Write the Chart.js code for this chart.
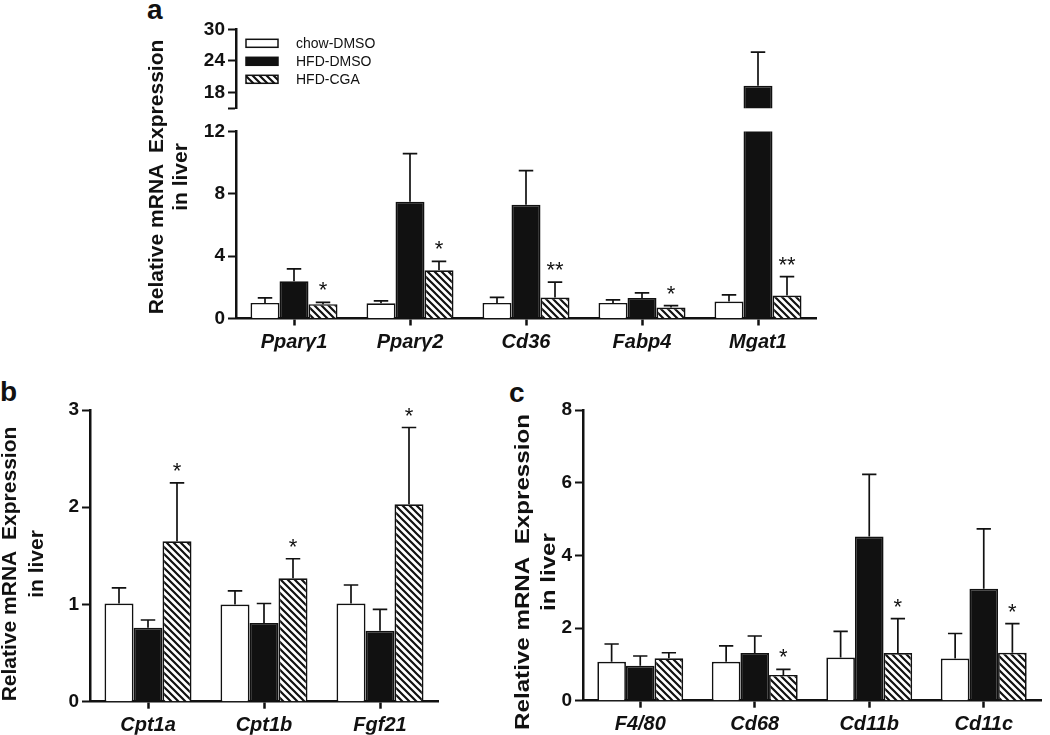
<!DOCTYPE html>
<html><head><meta charset="utf-8">
<script src="https://cdn.jsdelivr.net/npm/chart.js@4.4.1/dist/chart.umd.min.js"></script>
<style>
html,body{margin:0;padding:0;background:#fff;width:1050px;height:735px;overflow:hidden;position:relative;}
canvas{position:absolute;}
.lbl{position:absolute;font-family:"Liberation Sans",Arial,sans-serif;font-weight:bold;font-size:28px;line-height:28px;color:#111;}
.yt{position:absolute;width:360px;font-family:"Liberation Sans",Arial,sans-serif;font-weight:bold;font-size:21px;color:#111;text-align:center;white-space:pre;transform-origin:center center;}
</style></head>
<body>
<canvas id="aUp" width="646" height="125" style="left:180px;top:10px"></canvas>
<canvas id="aLow" width="646" height="240" style="left:180px;top:115px"></canvas>
<canvas id="bC" width="408" height="340" style="left:40px;top:395px"></canvas>
<canvas id="cC" width="520" height="340" style="left:528px;top:395px"></canvas>

<div class="lbl" style="left:147px;top:-4px">a</div>
<div class="lbl" style="left:0px;top:378px">b</div>
<div class="lbl" style="left:509px;top:379px">c</div>

<div class="yt" style="left:-12.3px;top:153px;line-height:24px;transform:rotate(-90deg)">Relative mRNA  Expression
in liver</div>
<div class="yt" style="left:-157.8px;top:536.5px;line-height:27px;transform:rotate(-90deg)">Relative mRNA  Expression
in liver</div>
<div class="yt" style="left:354.7px;top:545.5px;line-height:26px;transform:rotate(-90deg) scaleX(1.15)">Relative mRNA  Expression
in liver</div>

<script>
// ---------- data ----------
const seriesNames = ['chow-DMSO', 'HFD-DMSO', 'HFD-CGA'];

// panel a
const catsA = ['Ppar\u03B31', 'Ppar\u03B32', 'Cd36', 'Fabp4', 'Mgat1'];
const chowA = [1.00, 0.98, 1.00, 1.00, 1.09];
const chowAErr = [0.32, 0.15, 0.35, 0.19, 0.42];
const hfdA = [2.39, 7.50, 7.30, 1.32, 19.27];
const hfdAErr = [0.79, 3.08, 2.19, 0.32, 6.38];
const cgaA = [0.92, 3.10, 1.35, 0.70, 1.47];
const cgaAErr = [0.12, 0.57, 0.98, 0.13, 1.22];
const sigA = ['*', '*', '**', '*', '**'];
const ticksAUpper = [15, 18, 24, 30];
const ticksALower = [0, 4, 8, 12];

// panel b
const catsB = ['Cpt1a', 'Cpt1b', 'Fgf21'];
const chowB = [1.01, 1.00, 1.01];
const chowBErr = [0.16, 0.14, 0.19];
const hfdB = [0.76, 0.81, 0.73];
const hfdBErr = [0.08, 0.20, 0.22];
const cgaB = [1.65, 1.27, 2.03];
const cgaBErr = [0.60, 0.20, 0.79];
const sigB = ['*', '*', '*'];
const ticksB = [0, 1, 2, 3];

// panel c
const catsC = ['F4/80', 'Cd68', 'Cd11b', 'Cd11c'];
const chowC = [1.07, 1.07, 1.19, 1.16];
const chowCErr = [0.49, 0.44, 0.72, 0.69];
const hfdC = [0.96, 1.31, 4.52, 3.08];
const hfdCErr = [0.27, 0.47, 1.71, 1.65];
const cgaC = [1.17, 0.71, 1.31, 1.32];
const cgaCErr = [0.15, 0.15, 0.95, 0.80];
const sigC = ['', '*', '*', '*'];
const ticksC = [0, 2, 4, 6, 8];

// ---------- styling ----------
const FAM = '"Liberation Sans", Arial, sans-serif';
const INK = '#111';

function makeHatch() {
  const s = 7, c = document.createElement('canvas');
  c.width = s; c.height = s;
  const g = c.getContext('2d');
  g.fillStyle = '#fff'; g.fillRect(0, 0, s, s);
  g.strokeStyle = INK; g.lineWidth = 2.2;
  g.beginPath();
  for (let k = -1; k <= 1; k++) { g.moveTo(k * s - 1, -1); g.lineTo(k * s + s + 1, s + 1); }
  g.stroke();
  return g.createPattern(c, 'repeat');
}
const hatch = makeHatch();

const errPlugin = {
  id: 'errbars',
  afterDatasetsDraw(chart) {
    const ctx = chart.ctx, a = chart.chartArea, ys = chart.scales.y;
    ctx.save();
    ctx.beginPath();
    ctx.rect(a.left, a.top - 1, a.right - a.left, a.bottom - a.top + 1);
    ctx.clip();
    ctx.strokeStyle = INK; ctx.lineWidth = 1.7;
    chart.data.datasets.forEach((ds, di) => {
      const meta = chart.getDatasetMeta(di);
      meta.data.forEach((bar, i) => {
        const v = ds.data[i], e = ds.errors[i];
        const y0 = ys.getPixelForValue(v), y1 = ys.getPixelForValue(v + e);
        const half = bar.width / 4;
        ctx.beginPath();
        ctx.moveTo(bar.x, y0); ctx.lineTo(bar.x, y1);
        ctx.moveTo(bar.x - half, y1); ctx.lineTo(bar.x + half, y1);
        ctx.stroke();
      });
    });
    ctx.restore();
    ctx.save();
    ctx.fillStyle = INK;
    ctx.font = '22px ' + FAM;
    ctx.textAlign = 'center';
    ctx.textBaseline = 'alphabetic';
    chart.data.datasets.forEach((ds, di) => {
      if (!ds.sig) return;
      const meta = chart.getDatasetMeta(di);
      meta.data.forEach((bar, i) => {
        const t = ds.sig[i];
        const top = ds.data[i] + ds.errors[i];
        if (!t || top > ys.max || top < ys.min) return;
        ctx.fillText(t, bar.x, ys.getPixelForValue(top) - 5);
      });
    });
    ctx.restore();
  }
};

const legendPlugin = {
  id: 'boxLegend',
  afterDraw(chart) {
    const ctx = chart.ctx, a = chart.chartArea;
    ctx.save();
    chart.data.datasets.forEach((ds, i) => {
      const cy = a.top + 14 + i * 18;
      const x = a.left + 10;
      ctx.fillStyle = ds.backgroundColor;
      ctx.fillRect(x, cy - 4, 32, 8);
      ctx.strokeStyle = INK; ctx.lineWidth = 1.5;
      ctx.strokeRect(x, cy - 4, 32, 8);
      ctx.fillStyle = INK;
      ctx.font = '14px ' + FAM;
      ctx.textAlign = 'left';
      ctx.textBaseline = 'middle';
      ctx.fillText(ds.label, x + 50, cy + 1);
    });
    ctx.restore();
  }
};

function buildChart(id, cats, chow, chowErr, hfd, hfdErr, cga, cgaErr, sig, o) {
  const common = { borderColor: INK, borderWidth: 1.7, clip: 0 };
  return new Chart(document.getElementById(id), {
    type: 'bar',
    data: {
      labels: cats,
      datasets: [
        Object.assign({ label: seriesNames[0], data: chow, errors: chowErr, backgroundColor: '#fff' }, common),
        Object.assign({ label: seriesNames[1], data: hfd, errors: hfdErr, backgroundColor: INK }, common),
        Object.assign({ label: seriesNames[2], data: cga, errors: cgaErr, sig: sig, backgroundColor: hatch }, common)
      ]
    },
    options: {
      responsive: false,
      animation: false,
      devicePixelRatio: 1,
      layout: { padding: o.padding },
      datasets: { bar: { categoryPercentage: 0.75, barPercentage: 1.0 } },
      plugins: { legend: { display: false }, tooltip: { enabled: false } },
      scales: {
        x: {
          type: 'category', offset: true, display: o.showX,
          grid: { offset: false, display: true, drawOnChartArea: false, drawTicks: true, tickLength: 7, tickWidth: 2.5, tickColor: INK },
          border: { display: true, color: INK, width: 2.5 },
          ticks: { font: { family: FAM, size: 20, weight: 'bold', style: 'italic' }, color: INK, padding: 5, maxRotation: 0, autoSkip: false },
          afterFit: (s) => { s.height = o.showX ? 33 : 0; }
        },
        y: {
          type: 'linear', min: o.min, max: o.max,
          afterBuildTicks: (s) => { s.ticks = o.ticks.map(v => ({ value: v })); },
          grid: { display: true, drawOnChartArea: false, drawTicks: true, tickLength: 8, tickWidth: 2, tickColor: INK },
          border: { display: true, color: INK, width: 2.5 },
          ticks: { font: { family: FAM, size: 19, weight: 'bold' }, color: INK, padding: 3, autoSkip: false,
                   callback: (v) => (o.hide && o.hide.includes(v)) ? '' : String(v) },
          afterFit: (s) => { s.width = o.yW; }
        }
      }
    },
    plugins: o.legend ? [errPlugin, legendPlugin] : [errPlugin]
  });
}

buildChart('aUp', catsA, chowA, chowAErr, hfdA, hfdAErr, cgaA, cgaAErr, sigA,
  { min: 15, max: 30, ticks: ticksAUpper, hide: [15], yW: 56, showX: false, legend: true,
    padding: { top: 19.3, bottom: 26.7, left: 0, right: 10 } });
buildChart('aLow', catsA, chowA, chowAErr, hfdA, hfdAErr, cgaA, cgaAErr, sigA,
  { min: 0, max: 12, ticks: ticksALower, yW: 56, showX: true,
    padding: { top: 16.5, bottom: 3.5, left: 0, right: 10 } });
buildChart('bC', catsB, chowB, chowBErr, hfdB, hfdBErr, cgaB, cgaBErr, sigB,
  { min: 0, max: 3, ticks: ticksB, yW: 50, showX: true,
    padding: { top: 15, bottom: 0.3, left: 0, right: 10 } });
buildChart('cC', catsC, chowC, chowCErr, hfdC, hfdCErr, cgaC, cgaCErr, sigC,
  { min: 0, max: 8, ticks: ticksC, yW: 55, showX: true,
    padding: { top: 15, bottom: 1.3, left: 0, right: 7 } });
</script>
</body></html>
